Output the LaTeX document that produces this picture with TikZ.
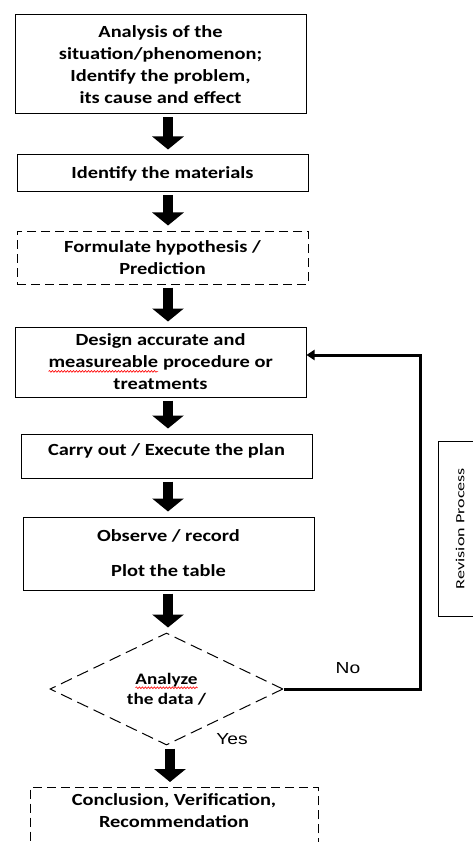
\documentclass[tikz,border=0pt]{standalone}
\usepackage{fontspec}
\setmainfont{Carlito}[FakeStretch=1.2]
\newfontfamily\labelfont{Liberation Sans}[FakeStretch=1.2]
\newfontfamily\sidefont{Carlito}
\usepackage{xcolor}
\usetikzlibrary{calc}
\usetikzlibrary{shapes.geometric}
\usetikzlibrary{arrows.meta, positioning}
\usetikzlibrary{decorations.pathmorphing}

% red spell-check wave under a word
\newcommand{\redwave}[1]{\tikz[baseline=(w.base)]{\node[rectangle, draw=none, solid, inner sep=0pt, outer sep=0pt, minimum width=0pt, minimum height=0pt, text depth=] (w) {#1};
	\draw[red, solid, line width=0.6pt, decorate, decoration={snake, amplitude=0.9pt, segment length=3pt}] ([yshift=-3.5pt]w.base west) -- ([yshift=-3.5pt]w.base east);}}

\begin{document}
\begin{tikzpicture}[x=1pt,y=-1pt,
	box/.style={draw, line width=1pt, minimum width=291pt, align=center, inner sep=2pt,
		font=\bfseries\fontsize{17}{22}\selectfont},
	dashbox/.style={box, dash pattern=on 9pt off 5pt},
	decision/.style={diamond, draw, line width=1pt, dash pattern=on 12pt off 6pt,
		minimum width=233pt, minimum height=112pt, inner sep=0pt, align=center,
		font=\bfseries\fontsize{16}{20}\selectfont},
	bigarrow/.style={line width=10pt, -{Triangle[width=31pt,length=13pt]},
		shorten <=3pt, shorten >=5pt},
	revline/.style={line width=3pt, -{Triangle[width=10pt,length=8pt]}},
	answer/.style={font=\labelfont\fontsize{16}{18}\selectfont, inner sep=0pt}]
	
	\useasboundingbox (0,0) rectangle (472,842);		% page frame
	\coordinate (ax) at (168,0);		% x of the block arrows
	\coordinate (loopx) at (420,0);		% x of the revision loop
	
	% steps
	\node[box, minimum height=99pt] (analysis) at (160.5,64.5) {Analysis of the\\situation/phenomenon;\\Identify the problem,\\its cause and effect};
	\node[box, minimum height=37pt] (materials) at (162.5,173.5) {Identify the materials};
	\node[dashbox, minimum height=53pt] (hypo) at (162.5,257.5) {Formulate hypothesis /\\Prediction};
	\node[box, minimum height=70pt] (design) at (160.5,362) {Design accurate and\\\redwave{measureable} procedure or\\treatments};
	\node[box, minimum height=44pt, text depth=12pt] (execute) at (166.5,456) {Carry out / Execute the plan};
	\node[box, minimum height=73pt] (observe) at (168.5,553.5) {Observe / record\\[13pt]Plot the table};
	\node[decision] (analyze) at (166.5,689) {\redwave{Analyze}\\the data /};
	\node[dashbox, anchor=north, minimum width=288pt, inner sep=6pt] (concl) at (174,787) {Conclusion, Verification,\\Recommendation\\[40pt]\mbox{}};
	
	% side box
	\node[draw, line width=1pt, rotate=90, minimum width=175pt, minimum height=44pt, inner sep=0pt,
		font=\sidefont\fontsize{12.5}{13}\selectfont] (revision) at (460,528.5) {\scalebox{1.45}[1]{Revision Process}};
	
	% block arrows
	\draw[bigarrow] (analysis.south -| ax) -- (materials.north -| ax);
	\draw[bigarrow] (materials.south -| ax) -- (hypo.north -| ax);
	\draw[bigarrow] (hypo.south -| ax) -- (design.north -| ax);
	\draw[bigarrow] (design.south -| ax) -- (execute.north -| ax);
	\draw[bigarrow] (execute.south -| ax) -- (observe.north -| ax);
	\draw[bigarrow] (observe.south -| ax) -- (analyze.north -| ax);
	\draw[bigarrow] ([xshift=2pt]analyze.south -| ax) -- ([xshift=2pt]concl.north -| ax);
	
	% revision loop
	\draw[revline] (analyze.east) -- (analyze.east -| loopx) |- ([yshift=7pt]design.east);
	\node[answer] (no) at (348,668) {No};
	\node[answer] (yes) at (232,739) {Yes};
\end{tikzpicture}
\end{document}
